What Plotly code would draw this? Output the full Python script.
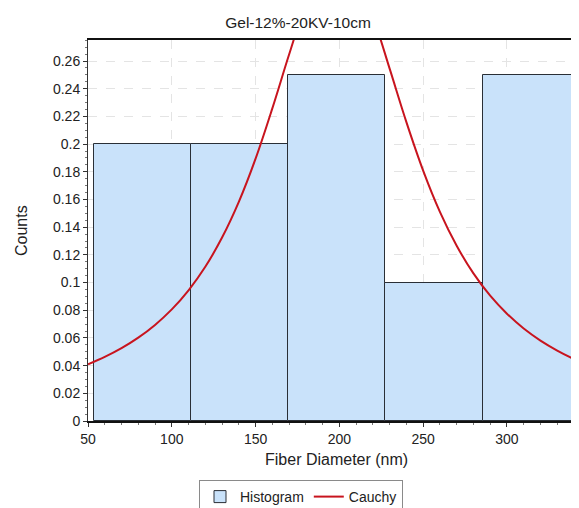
import plotly.graph_objects as go

# ---- data ----
bin_edges = [53.5, 111.5, 169.5, 227.5, 285.5, 343.5]
counts = [0.20, 0.20, 0.25, 0.10, 0.25]

cauchy_x = [50, 60, 70, 80, 90, 100, 110, 120, 130, 140, 150, 160, 170, 180, 190,
            200, 210, 220, 230, 240, 250, 260, 270, 280, 290, 300, 310, 320, 330, 340, 345]
cauchy_y = [0.0410, 0.0463, 0.0526, 0.0602, 0.0694, 0.0806, 0.0944, 0.1114, 0.1325,
            0.1583, 0.1895, 0.2258, 0.2647, 0.3013, 0.3274, 0.3354, 0.3221, 0.2924,
            0.2545, 0.2159, 0.1809, 0.1511, 0.1266, 0.1066, 0.0905, 0.0775, 0.0668,
            0.0581, 0.0509, 0.0448, 0.0422]

x_tick_vals = [50, 100, 150, 200, 250, 300]
y_tick_vals = [0, 0.02, 0.04, 0.06, 0.08, 0.1, 0.12, 0.14, 0.16, 0.18, 0.2, 0.22, 0.24, 0.26]
y_tick_text = ["0", "0.02", "0.04", "0.06", "0.08", "0.1", "0.12", "0.14", "0.16",
               "0.18", "0.2", "0.22", "0.24", "0.26"]

title_text = "Gel-12%-20KV-10cm"
x_title = "Fiber Diameter (nm)"
y_title = "Counts"

centers = [(a + b) / 2 for a, b in zip(bin_edges[:-1], bin_edges[1:])]
widths = [b - a for a, b in zip(bin_edges[:-1], bin_edges[1:])]

FONT = "Arial, Liberation Sans, sans-serif"
W, H = 571, 500  # page adds an 8px body margin

fig = go.Figure()
fig.add_trace(go.Bar(
    x=centers, y=counts, width=widths, name="Histogram",
    marker=dict(color="#c9e2fa", line=dict(color="#2a2f36", width=1)),
))
fig.add_trace(go.Scatter(
    x=cauchy_x, y=cauchy_y, mode="lines", name="Cauchy",
    line=dict(color="#c8141e", width=2, shape="spline"),
))

fig.update_layout(
    width=W, height=H,
    margin=dict(l=80, r=0, t=32, b=87, autoexpand=False),
    paper_bgcolor="white", plot_bgcolor="white",
    font=dict(family=FONT, size=14, color="#222222"),
    title=dict(text=title_text, x=290 / W, xref="container", xanchor="center",
               y=1 - 15 / H, yref="container", yanchor="middle",
               font=dict(size=15.5, color="#222222", family=FONT)),
    showlegend=True,
    legend=dict(orientation="h", x=(191 - 80) / 491, xanchor="left",
                y=(413 - 472) / 381, yanchor="top",
                bordercolor="#8a8a8a", borderwidth=1, bgcolor="white",
                font=dict(size=14, family=FONT, color="#222222"),
                itemwidth=30, tracegroupgap=0),
    bargap=0,
)

fig.update_xaxes(
    range=[50, 343], tickvals=x_tick_vals, ticks="outside", ticklen=4,
    tickcolor="#333333", showline=True, linecolor="#111111", linewidth=2,
    mirror=True, showgrid=True, gridcolor="#e4e4e4", griddash="dash", gridwidth=1,
    zeroline=False, tickfont=dict(size=14),
    minor=dict(dtick=10, ticks="outside", ticklen=2, tickcolor="#777777", showgrid=False),
)
fig.update_yaxes(
    range=[0, 0.2752], tickvals=y_tick_vals, ticktext=y_tick_text, ticks="outside",
    ticklen=4, tickcolor="#333333", showline=True, linecolor="#333333", linewidth=1,
    showgrid=True, gridcolor="#e4e4e4", griddash="dash", gridwidth=1, zeroline=False,
    tickfont=dict(size=14),
    minor=dict(dtick=0.005, ticks="outside", ticklen=2, tickcolor="#777777", showgrid=False),
)

fig.add_annotation(text=x_title, xref="paper", yref="paper",
                   x=(328 - 80) / 491, y=(413 - 451) / 381, xanchor="center",
                   yanchor="middle", showarrow=False, font=dict(size=16, family=FONT))
fig.add_annotation(text=y_title, xref="paper", yref="paper",
                   x=(13.5 - 80) / 491, y=0.5, xanchor="center", yanchor="middle",
                   textangle=-90, showarrow=False, font=dict(size=16, family=FONT))

fig.write_html("out.html")
